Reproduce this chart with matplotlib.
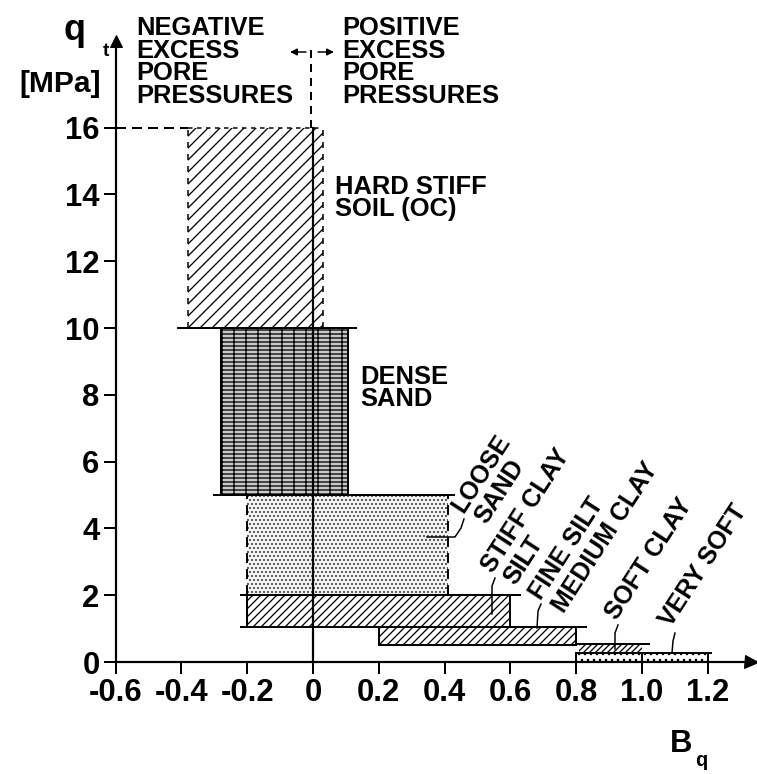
import matplotlib
matplotlib.use("Agg")
import matplotlib.pyplot as plt
from matplotlib.patches import Rectangle

plt.rcParams['font.family'] = ['Liberation Sans', 'DejaVu Sans']
plt.rcParams['hatch.linewidth'] = 1.3

# ---------------- data ----------------
zones = ['HARD STIFF SOIL (OC)', 'DENSE SAND', 'LOOSE SAND', 'STIFF CLAY SILT',
         'FINE SILT MEDIUM CLAY', 'SOFT CLAY', 'VERY SOFT']
bq_low = [-0.38, -0.28, -0.20, -0.20, 0.20, 0.81, 0.80]
bq_high = [0.03, 0.105, 0.41, 0.60, 0.80, 1.00, 1.20]
qt_low = [10.0, 5.0, 2.0, 1.05, 0.50, 0.28, 0.03]
qt_high = [16.0, 10.0, 5.0, 2.0, 1.05, 0.55, 0.28]

x_ticks = [-0.6, -0.4, -0.2, 0.0, 0.2, 0.4, 0.6, 0.8, 1.0, 1.2]
x_tick_labels = ['-0.6', '-0.4', '-0.2', '0', '0.2', '0.4', '0.6', '0.8', '1.0', '1.2']
y_ticks = [0, 2, 4, 6, 8, 10, 12, 14, 16]
y_tick_labels = ['0', '2', '4', '6', '8', '10', '12', '14', '16']

# ---------------- layout helpers (pixel -> data) ----------------
W, H, DPI = 757, 774, 72
X0, XS = 313.0, 329.0
Y0, YS = 662.0, 33.4


def px(xp, yp):
    return (xp - X0) / XS, (Y0 - yp) / YS


fig = plt.figure(figsize=(W / DPI, H / DPI), dpi=DPI)
ax = fig.add_axes([0, 0, 1, 1])
ax.set_xlim((0 - X0) / XS, (W - X0) / XS)
ax.set_ylim((Y0 - H) / YS, Y0 / YS)

# axes spines as the drawn axes
for s in ['top', 'right']:
    ax.spines[s].set_visible(False)
ax.spines['left'].set_position(('data', -0.6))
ax.spines['bottom'].set_position(('data', 0))
ax.spines['left'].set_bounds(0, 18.6)
ax.spines['bottom'].set_bounds(-0.6, 1.31)
for s in ['left', 'bottom']:
    ax.spines[s].set_linewidth(2.2)
ax.set_xticks(x_ticks)
ax.set_xticklabels(x_tick_labels)
ax.set_yticks(y_ticks)
ax.set_yticklabels(y_tick_labels)
ax.tick_params(axis='both', direction='out', length=12, width=2.0,
               labelsize=31, pad=4)
for lab in ax.get_xticklabels() + ax.get_yticklabels():
    lab.set_fontweight('bold')
ax.plot([1.33], [0], marker='>', color='black', markersize=13, clip_on=False)
ax.plot([-0.6], [18.6], marker='^', color='black', markersize=12, clip_on=False)

# ---------------- zone fills ----------------
fills = [
    dict(fc='white', hc='black', hatch='//'),
    dict(fc='#c8c8c8', hc='black', hatch='---|'),
    dict(fc='#f2f2f2', hc='#444444', hatch='...'),
    dict(fc='white', hc='black', hatch='///'),
    dict(fc='white', hc='black', hatch='///'),
    dict(fc='white', hc='black', hatch='////'),
    dict(fc='white', hc='black', hatch='..'),
]
for i, z in enumerate(zones):
    r = Rectangle((bq_low[i], qt_low[i]), bq_high[i] - bq_low[i],
                  qt_high[i] - qt_low[i], facecolor=fills[i]['fc'],
                  edgecolor=fills[i]['hc'], hatch=fills[i]['hatch'],
                  linewidth=0, zorder=1)
    ax.add_patch(r)

lw = 2.0
k = 'black'
# hard stiff soil outline
ax.plot([-0.6, bq_low[0]], [qt_high[0]] * 2, color=k, lw=lw, ls=(0, (5, 3)), zorder=3)
ax.plot([bq_low[0], bq_high[0]], [qt_high[0]] * 2, color=k, lw=1.5, ls=(0, (3, 3)), zorder=3)
ax.plot([bq_low[0]] * 2, [qt_low[0], qt_high[0]], color=k, lw=1.5, ls=(0, (4, 4)), zorder=3)
ax.plot([bq_high[0]] * 2, [qt_low[0], qt_high[0]], color=k, lw=1.5, ls=(0, (4, 4)), zorder=3)
ax.plot([bq_low[0] - 0.03, bq_high[1] + 0.025], [qt_low[0]] * 2, color=k, lw=lw, zorder=3)
# dense sand
ax.plot([bq_low[1]] * 2, [qt_low[1], qt_high[1]], color=k, lw=lw, zorder=3)
ax.plot([bq_high[1]] * 2, [qt_low[1], qt_high[1]], color=k, lw=lw, zorder=3)
ax.plot([bq_low[1] - 0.02, bq_high[2] + 0.02], [qt_low[1]] * 2, color=k, lw=lw, zorder=3)
# loose sand
ax.plot([bq_low[2]] * 2, [qt_low[2], qt_high[2]], color=k, lw=lw, ls=(0, (5, 3)), zorder=3)
ax.plot([bq_high[2]] * 2, [qt_low[2], qt_high[2]], color=k, lw=lw, ls=(0, (5, 3)), zorder=3)
ax.plot([bq_low[2] - 0.02, bq_high[3] + 0.03], [qt_low[2]] * 2, color=k, lw=lw, zorder=3)
# stiff clay / silt
ax.plot([bq_low[3]] * 2, [qt_low[3], qt_high[3]], color=k, lw=lw, zorder=3)
ax.plot([bq_high[3]] * 2, [qt_low[3], qt_high[3]], color=k, lw=lw, zorder=3)
ax.plot([bq_low[3] - 0.02, bq_high[4] + 0.03], [qt_low[3]] * 2, color=k, lw=lw, zorder=3)
# fine silt / medium clay
ax.plot([bq_low[4]] * 2, [qt_low[4], qt_high[4]], color=k, lw=lw, zorder=3)
ax.plot([bq_high[4]] * 2, [qt_low[4], qt_high[4]], color=k, lw=lw, zorder=3)
ax.plot([bq_low[4], bq_high[4]], [qt_low[4]] * 2, color=k, lw=lw, zorder=3)
# soft clay / very soft
ax.plot([bq_low[5] - 0.01, bq_high[5] + 0.02], [qt_high[5]] * 2, color=k, lw=lw, zorder=3)
ax.plot([bq_low[5] - 0.01, bq_high[6] + 0.01], [qt_high[6]] * 2, color=k, lw=lw, zorder=3)
ax.plot([bq_low[6]] * 2, [0, qt_high[6]], color=k, lw=lw, zorder=3)
ax.plot([bq_high[5]] * 2, [0, qt_high[6]], color=k, lw=lw, zorder=3)
ax.plot([bq_high[6]] * 2, [0, qt_high[6]], color=k, lw=lw, zorder=3)

# Bq = 0 divider
ax.plot([0, 0], [0, 16], color=k, lw=2.2, zorder=4)
ax.plot([-0.005, -0.005], [16, 18.5], color=k, lw=2.0, ls=(0, (4, 3)), zorder=4)
ax.annotate('', xy=px(288, 52), xytext=px(308, 52),
            arrowprops=dict(arrowstyle='-|>', color=k, lw=1.5, mutation_scale=14))
ax.annotate('', xy=px(336, 52), xytext=px(316, 52),
            arrowprops=dict(arrowstyle='-|>', color=k, lw=1.5, mutation_scale=14))

# ---------------- labels ----------------
fs = 25.5
tkw = dict(fontsize=fs, fontweight='bold', linespacing=0.93, ha='left', va='center')
ax.text(*px(136, 62), 'NEGATIVE\nEXCESS\nPORE\nPRESSURES', **tkw)
ax.text(*px(342, 62), 'POSITIVE\nEXCESS\nPORE\nPRESSURES', **tkw)
ax.text(*px(335, 198), 'HARD STIFF\nSOIL (OC)', **tkw)
ax.text(*px(360, 388), 'DENSE\nSAND', **tkw)

rot = 57
rkw = dict(fontsize=25, fontweight='bold', rotation=rot, rotation_mode='anchor',
           ha='left', va='baseline')
ax.text(*px(463, 514), 'LOOSE', **rkw)
ax.text(*px(486, 525), 'SAND', **rkw)
ax.text(*px(493, 574), 'STIFF CLAY', **rkw)
ax.text(*px(515, 586), 'SILT', **rkw)
ax.text(*px(541, 601), 'FINE SILT', **rkw)
ax.text(*px(564, 614), 'MEDIUM CLAY', **rkw)
ax.text(*px(617, 621), 'SOFT CLAY', **rkw)
ax.text(*px(671, 628), 'VERY SOFT', **rkw)

# leader lines
leaders = [
    [(427, 537), (455, 537), (461, 528), (464, 519)],
    [(492, 614), (492, 586), (495, 578)],
    [(537, 628), (538, 611), (541, 604)],
    [(615, 649), (615, 633), (618, 625)],
    [(672, 653), (673, 641), (675, 633)],
]
for L in leaders:
    pts = [px(a, b) for a, b in L]
    ax.plot([p[0] for p in pts], [p[1] for p in pts], color=k, lw=1.5, zorder=5)

# axis titles
ax.text(*px(75, 30), 'q', fontsize=36, fontweight='bold', ha='center', va='center')
ax.text(*px(106, 52), 't', fontsize=19, fontweight='bold', ha='center', va='center')
ax.text(*px(60, 84), '[MPa]', fontsize=30, fontweight='bold', ha='center', va='center')
ax.text(*px(681, 744), 'B', fontsize=31, fontweight='bold', ha='center', va='center')
ax.text(*px(701, 760), 'q', fontsize=20, fontweight='bold', ha='center', va='center')

fig.savefig('out.png', dpi=DPI)
